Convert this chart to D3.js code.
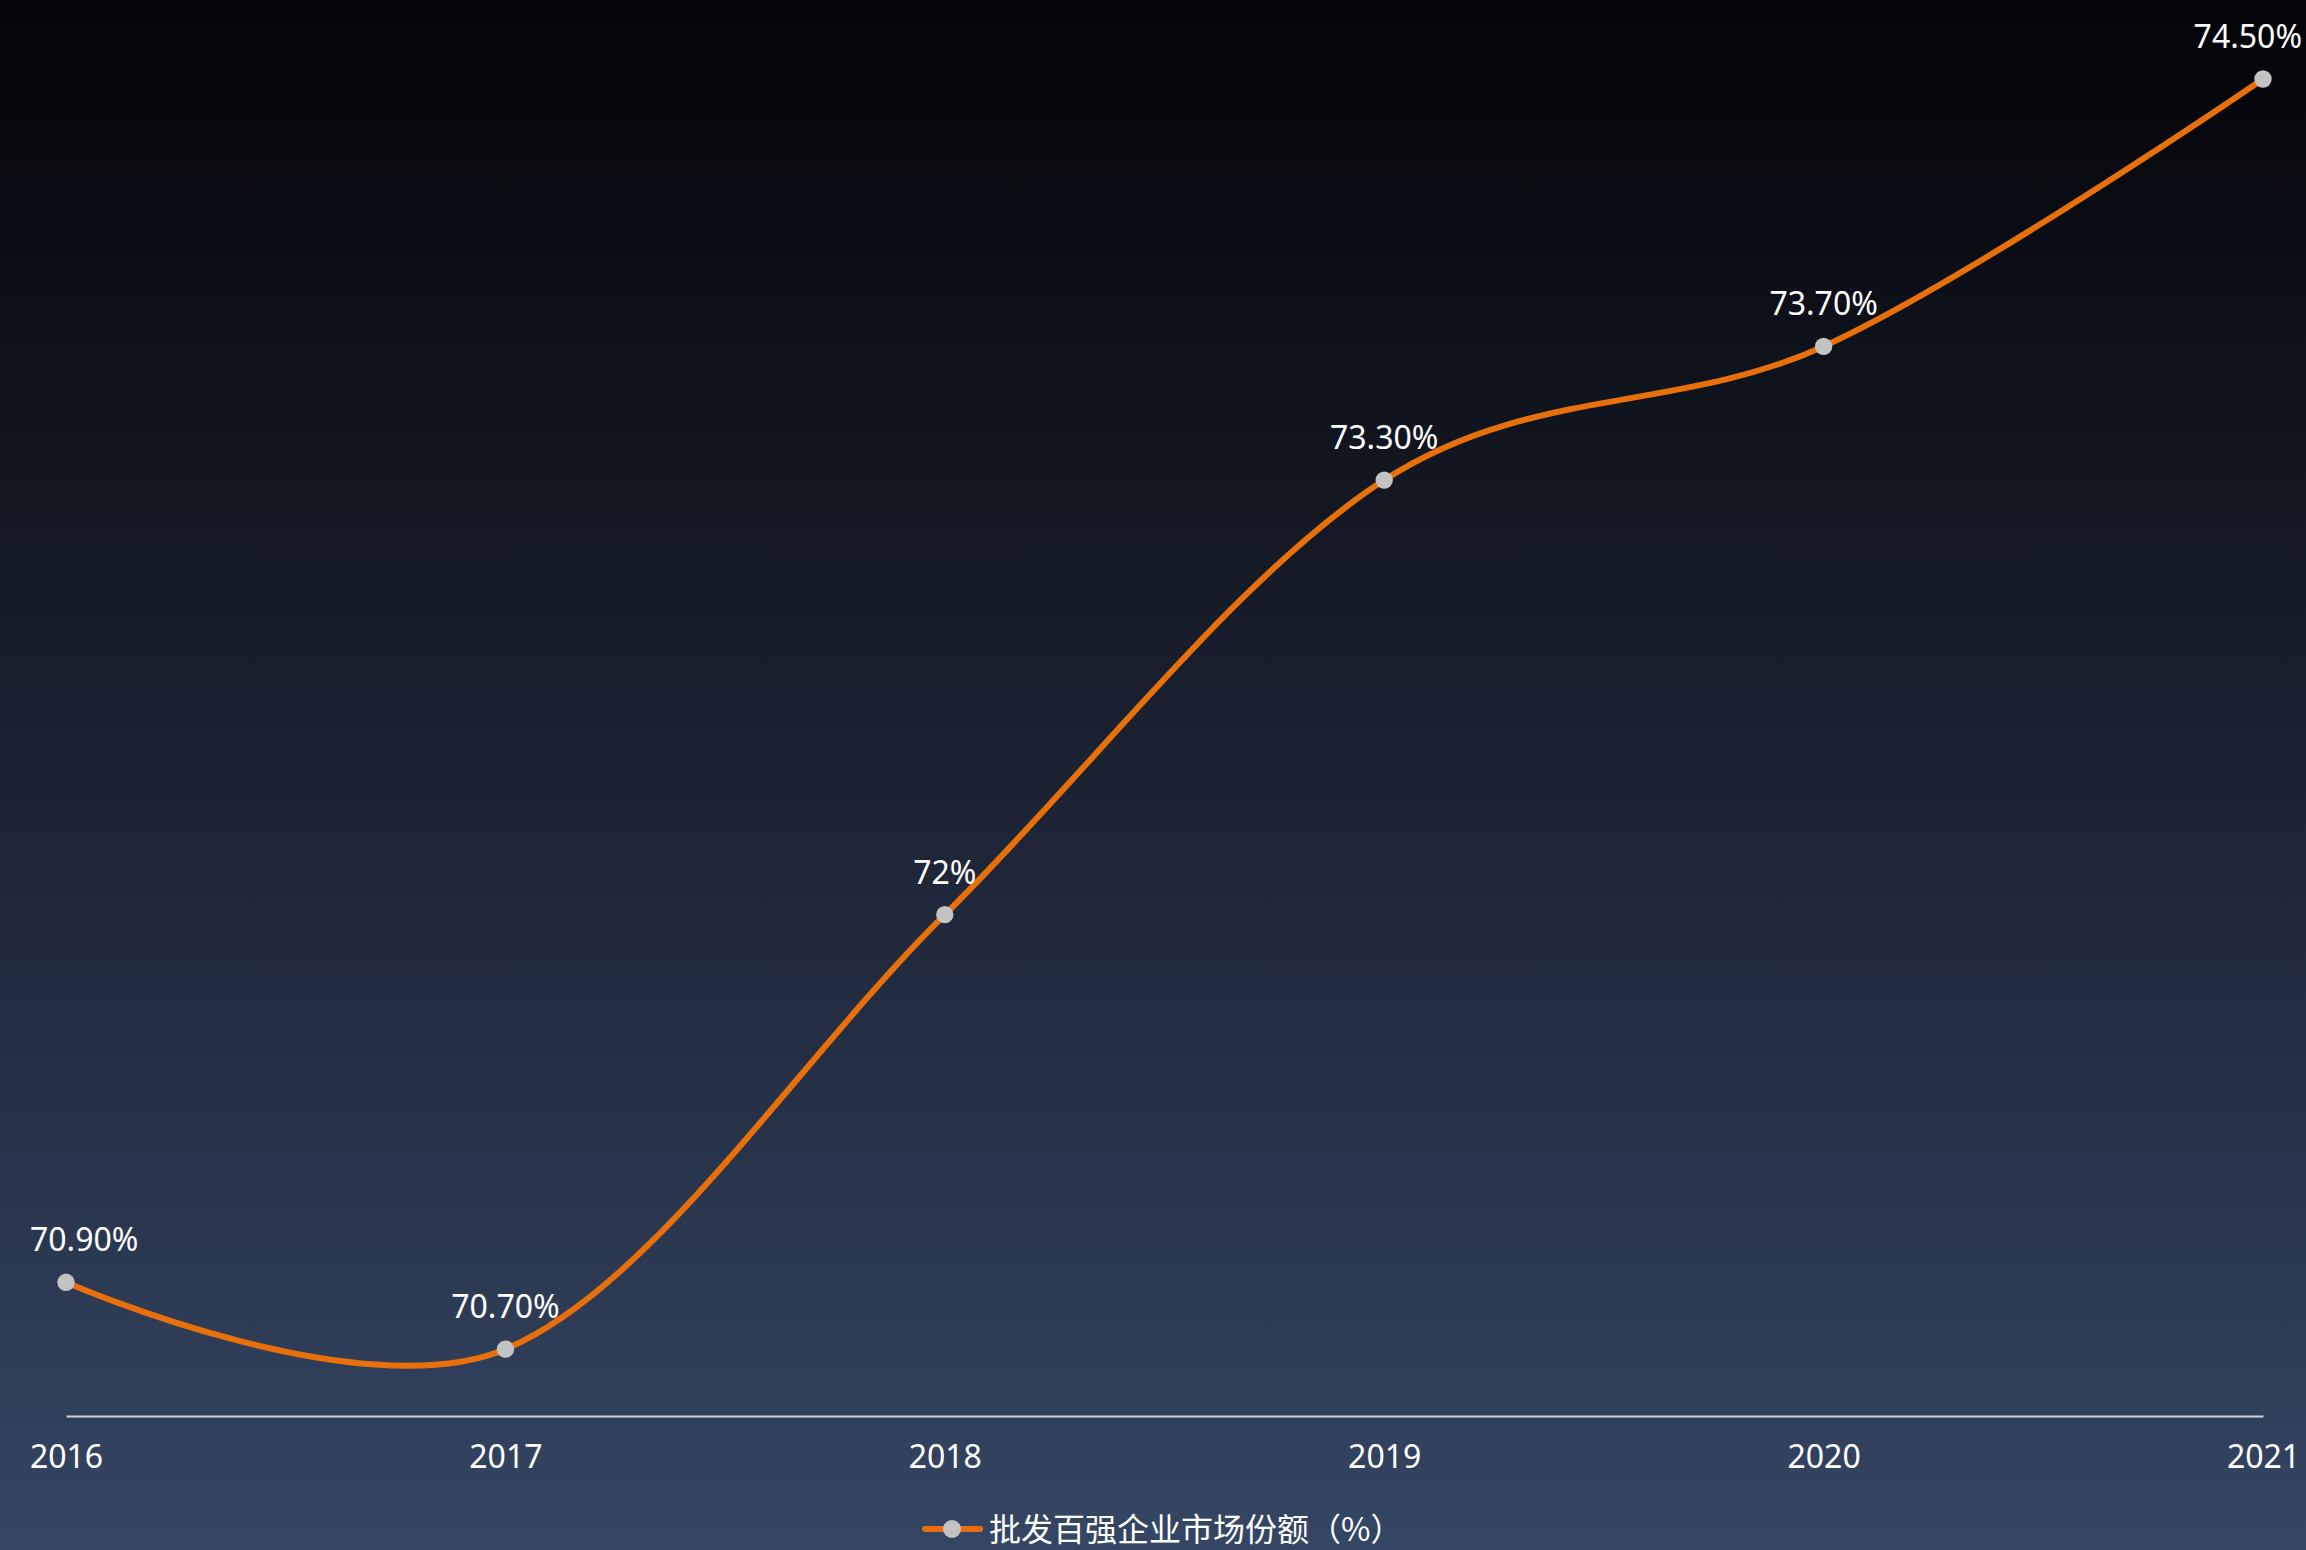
<!DOCTYPE html>
<html>
<head>
<meta charset="utf-8">
<script src="https://cdn.jsdelivr.net/npm/d3@7"></script>
<style>
html,body{margin:0;padding:0;background:#030407;}
svg{display:block;}
</style>
</head>
<body>
<svg id="chart" width="2306" height="1550"></svg>
<script>
const years = ["2016", "2017", "2018", "2019", "2020", "2021"];
const shareValues = [70.9, 70.7, 72.0, 73.3, 73.7, 74.5];
const valueLabels = ["70.90%", "70.70%", "72%", "73.30%", "73.70%", "74.50%"];
const seriesName = "批发百强企业市场份额（%）";
const yDomain = [70.5, 74.5];

const W = 2306, H = 1550;
const svg = d3.select("#chart");
const latin = "'Noto Sans', 'Open Sans', 'Noto Sans CJK SC', sans-serif";
const cjk = "'Noto Sans CJK SC', 'Noto Sans', sans-serif";

const defs = svg.append("defs");
const grad = defs.append("linearGradient").attr("id", "bg").attr("x1", 0).attr("y1", 0).attr("x2", 0).attr("y2", 1);
grad.append("stop").attr("offset", "0%").attr("stop-color", "#030407");
grad.append("stop").attr("offset", "50%").attr("stop-color", "#1b2232");
grad.append("stop").attr("offset", "100%").attr("stop-color", "#354664");
svg.append("rect").attr("width", W).attr("height", H).attr("fill", "url(#bg)");

const x = d3.scalePoint().domain(years).range([66, 2263]);
const y = d3.scaleLinear().domain(yDomain).range([1416, 79]);

// x axis
const xAxis = svg.append("g").attr("transform", "translate(0,1416)")
  .call(d3.axisBottom(x).tickSize(0).tickPadding(29));
xAxis.select(".domain").attr("stroke", "#cfd3da").attr("stroke-width", 2);
xAxis.selectAll("text").attr("fill", "#ffffff").attr("font-size", 32).attr("font-family", latin);

const data = years.map((yr, i) => ({ yr, v: shareValues[i], label: valueLabels[i] }));

const line = d3.line().x(d => x(d.yr)).y(d => y(d.v)).curve(d3.curveCardinal.tension(0));
svg.append("path").datum(data).attr("d", line)
  .attr("fill", "none").attr("stroke", "#e8700c").attr("stroke-width", 6)
  .attr("stroke-linejoin", "round").attr("stroke-linecap", "round");

svg.append("g").selectAll("circle").data(data).join("circle")
  .attr("cx", d => x(d.yr)).attr("cy", d => y(d.v)).attr("r", 8.7)
  .attr("fill", "#c3c3c3");

const labels = svg.append("g").selectAll("text").data(data).join("text")
  .attr("x", d => x(d.yr)).attr("y", d => y(d.v) - 31)
  .attr("text-anchor", "middle").attr("fill", "#ffffff")
  .attr("font-size", 32).attr("font-family", latin)
  .text(d => d.label);
labels.each(function () {
  const b = this.getBBox();
  const sel = d3.select(this);
  if (b.x + b.width > W - 4) {
    sel.attr("x", +sel.attr("x") - (b.x + b.width - (W - 4)));
  } else if (b.x < 30) {
    sel.attr("x", +sel.attr("x") + (30 - b.x));
  }
});

// legend
const lg = svg.append("g");
lg.append("line").attr("x1", 925).attr("x2", 980).attr("y1", 1529).attr("y2", 1529)
  .attr("stroke", "#e8700c").attr("stroke-width", 6).attr("stroke-linecap", "round");
lg.append("circle").attr("cx", 952).attr("cy", 1529).attr("r", 9).attr("fill", "#c3c3c3");
lg.append("text").attr("x", 989).attr("y", 1541).attr("fill", "#ffffff")
  .attr("font-size", 32).attr("font-family", cjk).text(seriesName);
</script>
</body>
</html>
